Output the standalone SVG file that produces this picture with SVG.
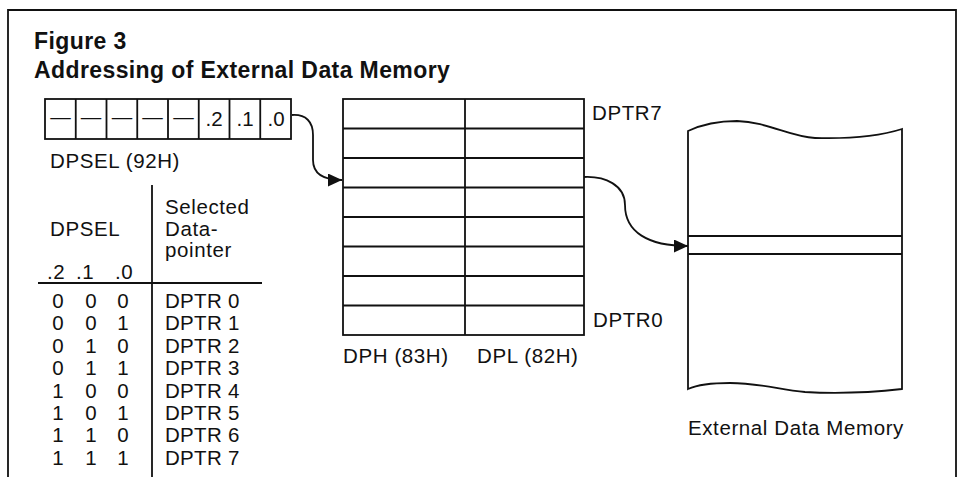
<svg xmlns="http://www.w3.org/2000/svg" width="962" height="477" viewBox="0 0 962 477">
<style>
.ln{fill:none;stroke:#111;stroke-width:1.8}
.t{font-family:"Liberation Sans",Arial,Helvetica,sans-serif;font-size:20.5px;fill:#111;letter-spacing:0.6px}
.b{font-family:"Liberation Sans",Arial,Helvetica,sans-serif;font-size:23px;font-weight:bold;fill:#111;letter-spacing:0.4px}
.m{text-anchor:middle}
</style>
<defs>
<marker id="ah" markerUnits="userSpaceOnUse" markerWidth="15" markerHeight="13" refX="14" refY="6.5" orient="auto">
<path d="M0,0 L14,6.5 L0,13 Z" fill="#111"/>
</marker>
</defs>
<rect width="962" height="477" fill="#fff"/>
<g id="frame">
<path class="ln" d="M8,477 L8,10 L956,10 L956,477"/>
</g>
<g id="title">
<text class="b" x="34" y="49">Figure 3</text>
<text class="b" x="34" y="78">Addressing of External Data Memory</text>
</g>
<g id="dpsel-register">
<rect class="ln" x="45" y="99" width="246" height="40"/>
<path class="ln" d="M75.75,99V139M106.5,99V139M137.25,99V139M168,99V139M198.75,99V139M229.5,99V139M260.25,99V139"/>
<g class="t m" style="letter-spacing:0">
<text x="60.4" y="124">—</text>
<text x="91.1" y="124">—</text>
<text x="121.9" y="124">—</text>
<text x="152.6" y="124">—</text>
<text x="183.4" y="124">—</text>
<text x="214" y="126">.2</text>
<text x="245" y="126">.1</text>
<text x="276" y="126">.0</text>
</g>
<text class="t" x="50" y="168">DPSEL (92H)</text>
</g>
<g id="dpsel-table">
<path class="ln" d="M152,185V477M38,283H262"/>
<text class="t" x="165" y="214">Selected</text>
<text class="t" x="165" y="235.5">Data-</text>
<text class="t" x="165" y="257">pointer</text>
<text class="t" x="50" y="236">DPSEL</text>
<text class="t" x="47" y="279">.2</text>
<text class="t" x="76" y="279">.1</text>
<text class="t" x="115" y="279">.0</text>
<g class="t m" style="letter-spacing:0">
<text x="58" y="308">0</text><text x="91" y="308">0</text><text x="123" y="308">0</text>
<text x="58" y="330.4">0</text><text x="91" y="330.4">0</text><text x="123" y="330.4">1</text>
<text x="58" y="352.8">0</text><text x="91" y="352.8">1</text><text x="123" y="352.8">0</text>
<text x="58" y="375.2">0</text><text x="91" y="375.2">1</text><text x="123" y="375.2">1</text>
<text x="58" y="397.6">1</text><text x="91" y="397.6">0</text><text x="123" y="397.6">0</text>
<text x="58" y="420">1</text><text x="91" y="420">0</text><text x="123" y="420">1</text>
<text x="58" y="442.4">1</text><text x="91" y="442.4">1</text><text x="123" y="442.4">0</text>
<text x="58" y="464.8">1</text><text x="91" y="464.8">1</text><text x="123" y="464.8">1</text>
</g>
<g class="t" style="letter-spacing:0.3px">
<text x="165" y="308">DPTR 0</text>
<text x="165" y="330.4">DPTR 1</text>
<text x="165" y="352.8">DPTR 2</text>
<text x="165" y="375.2">DPTR 3</text>
<text x="165" y="397.6">DPTR 4</text>
<text x="165" y="420">DPTR 5</text>
<text x="165" y="442.4">DPTR 6</text>
<text x="165" y="464.8">DPTR 7</text>
</g>
</g>
<g id="dptr-array">
<rect class="ln" x="343" y="99" width="241" height="236"/>
<path class="ln" d="M465,99V335M343,128.5H584M343,158H584M343,187.5H584M343,217H584M343,246.5H584M343,276H584M343,305.5H584"/>
<text class="t" x="592" y="120">DPTR7</text>
<text class="t" x="593" y="327">DPTR0</text>
<text class="t" x="343" y="363">DPH (83H)</text>
<text class="t" x="477" y="363">DPL (82H)</text>
</g>
<g id="external-memory">
<path class="ln" d="M688,131 C705,123 720,121 737,121 C768,122 790,137 815,138 C850,139 880,136 902,129 L902,389 C875,392 840,394 805,392 C780,390 760,383 730,383 C710,383 697,385 688,389 Z"/>
<path class="ln" d="M688,236H902M688,254H902"/>
<text class="t" x="688" y="435">External Data Memory</text>
</g>
<g id="connectors">
<path class="ln" marker-end="url(#ah)" d="M292,115 C306,114 313,122 313,135 L313,160 C313,173 322,180 342,180"/>
<path class="ln" marker-end="url(#ah)" d="M584,177 C605,176 625,185 625,205 C625,232 648,246 688,246"/>
</g>
</svg>
